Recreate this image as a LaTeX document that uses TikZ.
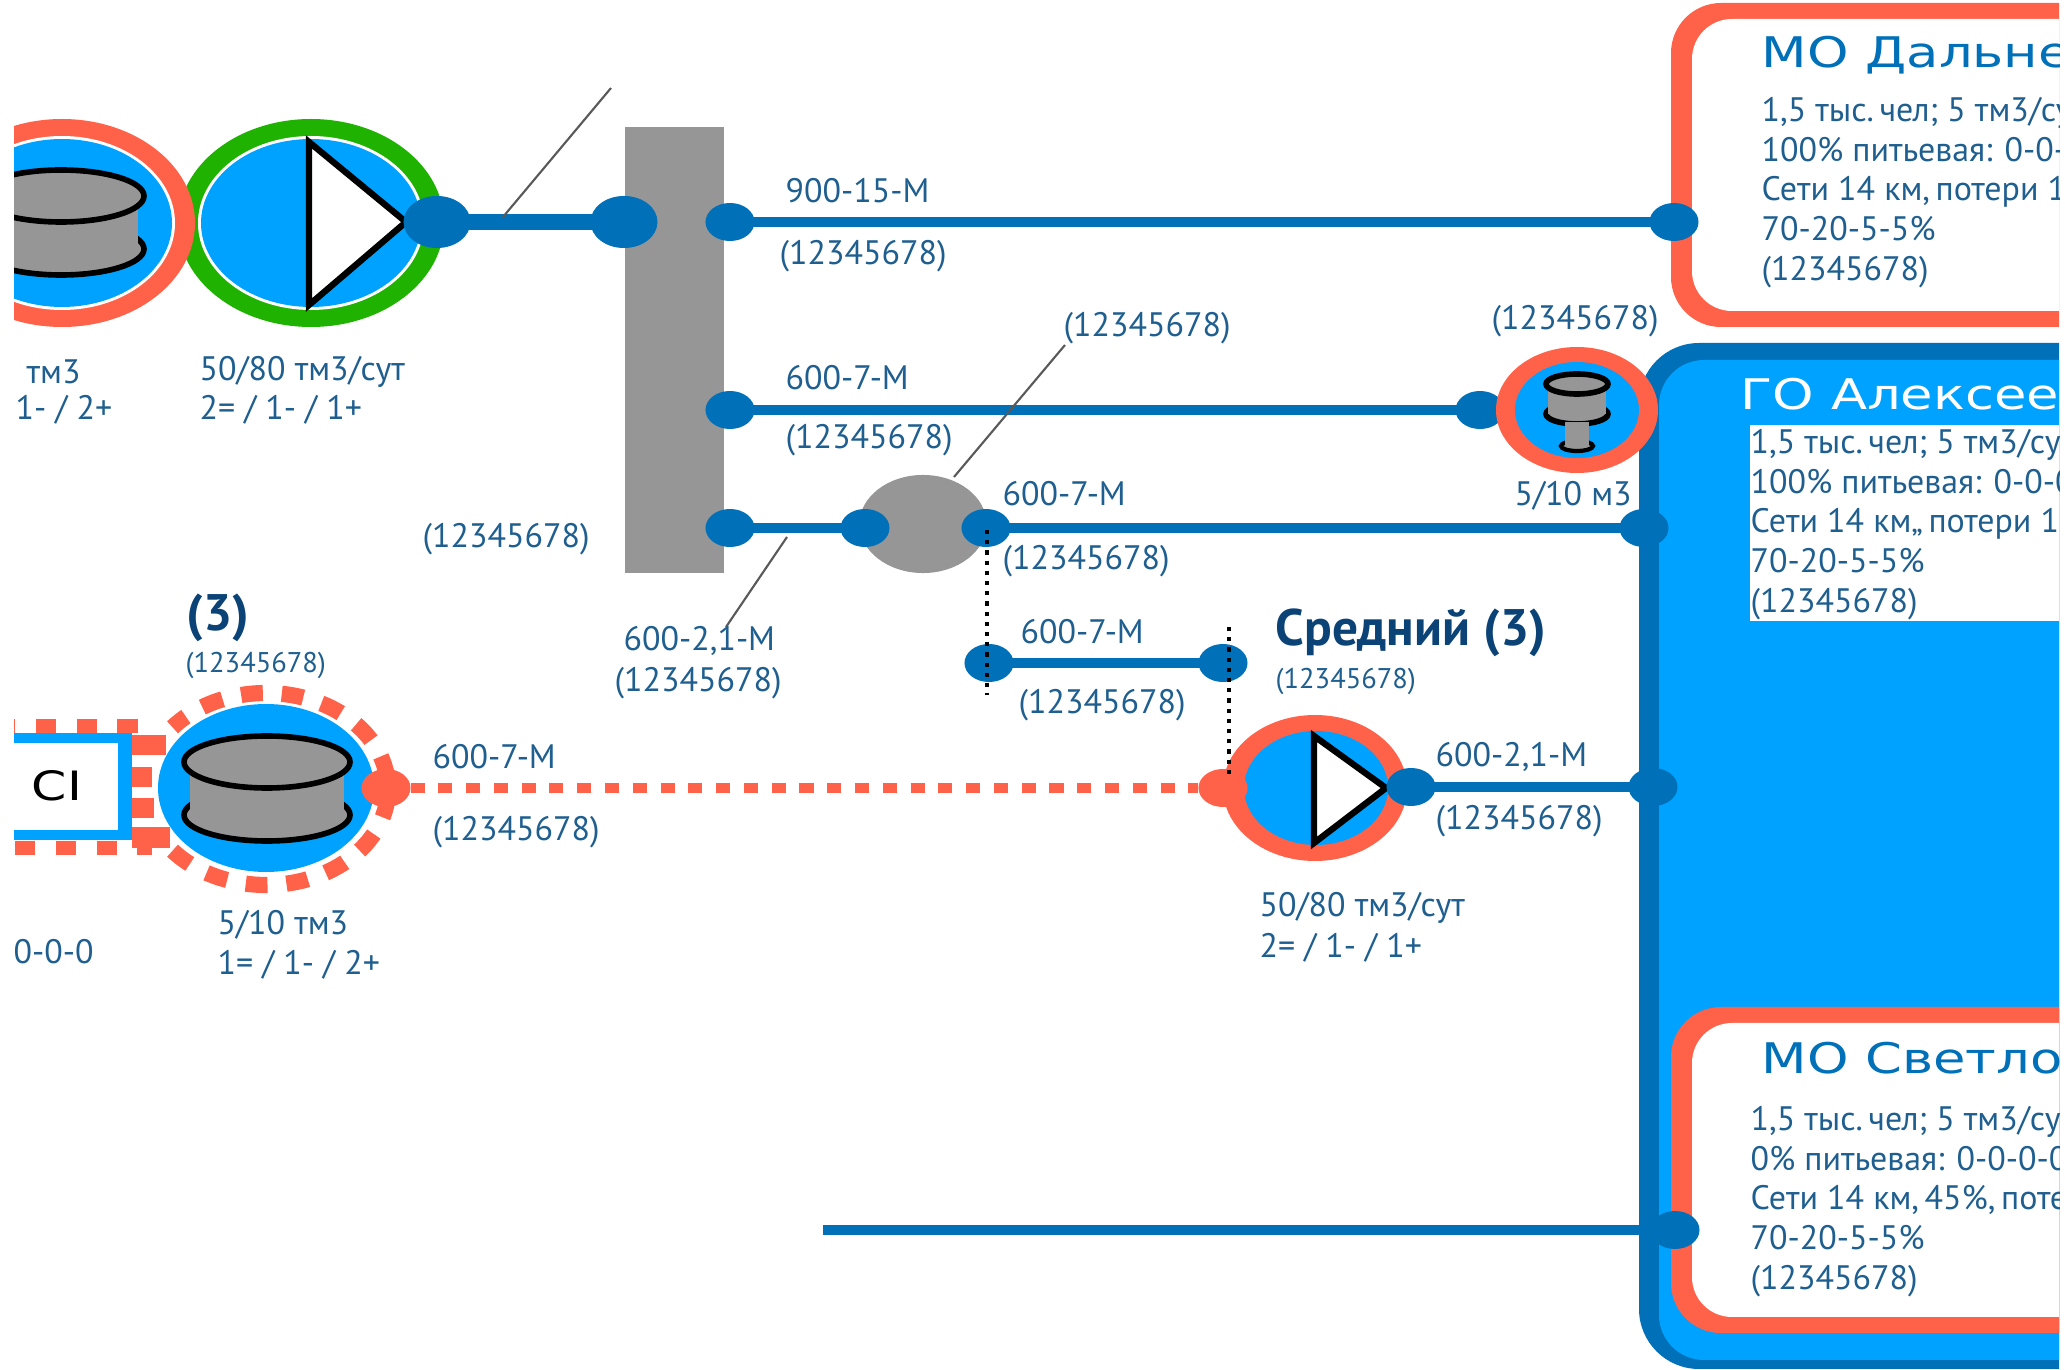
\documentclass[tikz,border=0pt]{standalone}
\usepackage{fontspec}
\setmainfont{PT Sans}
\newfontfamily\headfont[FakeStretch=1.25]{DejaVu Sans}
\usepackage{xcolor}
\usetikzlibrary{calc, shapes.geometric}

\definecolor{pipeblue}{HTML}{0070B8}
\definecolor{fillblue}{HTML}{00A2FF}
\definecolor{alarmred}{HTML}{FF6249}
\definecolor{okgreen}{HTML}{1FB200}
\definecolor{tankgray}{HTML}{969696}
\definecolor{labelblue}{HTML}{1F5F90}
\definecolor{titleblue}{HTML}{0B4377}

\tikzset{
	lbl/.style = {anchor = west, inner sep = 0, xshift = -0.01cm, yshift = -0.03cm, text = labelblue, font = \fontsize{9.65}{11}\selectfont},
	smalllbl/.style = {lbl, font = \fontsize{8.1}{10}\selectfont},
	boldlbl/.style = {lbl, text = titleblue, font = \fontsize{14.6}{16}\selectfont\bfseries},
	boxtext/.style = {anchor = north west, inner sep = 0, align = left, text = labelblue, font = \fontsize{9.65}{11.25}\selectfont},
	boxtitle/.style = {anchor = west, inner sep = 0, text = pipeblue, font = \headfont\fontsize{12}{14}\selectfont},
	dot/.style = {ellipse, inner sep = 0, outer sep = 0, fill = pipeblue, minimum width = 0.49cm, minimum height = 0.38cm},
	bigdot/.style = {dot, minimum width = 0.67cm, minimum height = 0.52cm},
	reddot/.style = {dot, fill = alarmred},
	pipe/.style = {draw = pipeblue, line width = 3.1pt},
	redpipe/.style = {draw = alarmred, line width = 3.1pt, dash pattern = on 4pt off 3.9pt},
	leader/.style = {draw = black!65, line width = 0.6pt},
	feeder/.style = {draw = black, line width = 1.2pt, dash pattern = on 1.2pt off 1.7pt},
	tankline/.style = {draw = black, fill = tankgray, line width = 1.6pt},
	pumpmark/.style = {draw = black, fill = white, line width = 1.8pt, line join = miter},
}

\newcommand{\drawtank}[5]{%
	\filldraw [tankline] (#1,#3) ellipse [x radius = #4, y radius = #5];
	\fill [tankgray] ({#1-0.93*#4},#2) rectangle ({#1+0.93*#4},#3);
	\filldraw [tankline] (#1,#2) ellipse [x radius = #4, y radius = #5];
}

\begin{document}
\begin{tikzpicture}[x = 0.01cm, y = -0.01cm]
	\useasboundingbox (0,0) rectangle (2065,1370);
	\fill [white] (0,0) rectangle (2065,1370);

	\begin{scope}
		\clip (14,0) rectangle (2059,1370);

		\fill [alarmred, rounded corners = 0.5cm] (1671,3) rectangle (2140,327);
		\fill [white, rounded corners = 0.4cm] (1692,19) rectangle (2140,311);

		\fill [pipeblue, rounded corners = 0.6cm] (1639,343) rectangle (2140,1369);
		\fill [fillblue, rounded corners = 0.45cm] (1659,360) rectangle (2140,1360);
		\fill [white] (1750,425) rectangle (2140,621);

		\fill [alarmred, rounded corners = 0.5cm] (1671,1007) rectangle (2140,1333);
		\fill [white, rounded corners = 0.4cm] (1692,1023) rectangle (2140,1317);

		\fill [tankgray] (625,127) rectangle (724,573);

		\fill [okgreen] (311,223) ellipse [x radius = 133, y radius = 104];
		\fill [white] (311,223) ellipse [x radius = 113, y radius = 87];
		\fill [fillblue] (311,223) ellipse [x radius = 110, y radius = 84];
		\filldraw [pumpmark] (309,142) -- (406,222) -- (309,305) -- cycle;

		\fill [alarmred] (62,223) ellipse [x radius = 133, y radius = 104];
		\fill [white] (62,223) ellipse [x radius = 113, y radius = 87];
		\fill [fillblue] (62,223) ellipse [x radius = 110, y radius = 84];
		\drawtank{61}{196}{249}{83}{26}

		\node [bigdot] (pump out) at (437,222) {};
		\node [bigdot] (hall in) at (624,222) {};
		\draw [pipe, line width = 4.3pt] (pump out.center) -- (hall in.center);

		\coordinate (tag a) at (503,217);
		\coordinate (tag a end) at (611,88);
		\draw [leader] (tag a) -- (tag a end);

		\node [dot] (hall top) at (730,222) {};
		\node [dot] (dalnee in) at (1674,222) {};
		\draw [pipe] (hall top.center) -- (dalnee in.center);

		\node [dot] (hall mid) at (730,410) {};
		\node [dot] (tower in) at (1480,410) {};
		\draw [pipe] (hall mid.center) -- (tower in.center);

		\fill [alarmred] (1577,410) ellipse [x radius = 81, y radius = 63];
		\fill [fillblue] (1577,410) ellipse [x radius = 62, y radius = 48];
		\drawtank{1577}{384}{414}{31}{10}
		\filldraw [tankline, line width = 1.2pt] (1577,446) ellipse [x radius = 16, y radius = 5];
		\fill [tankgray] (1565,422) rectangle (1589,446);

		\node [ellipse, inner sep = 0, outer sep = 0, fill = tankgray, minimum width = 1.27cm, minimum height = 0.98cm] (valve) at (923,524) {};

		\coordinate (tag b) at (954,477);
		\coordinate (tag b end) at (1065,345);
		\draw [leader] (tag b) -- (tag b end);

		\node [dot] (hall low) at (730,528) {};
		\node [dot] (valve in) at (865,528) {};
		\node [dot] (valve out) at (986,528) {};
		\node [dot] (city a) at (1644,528) {};
		\draw [pipe] (hall low.center) -- (valve in.center);
		\draw [pipe] (valve out.center) -- (city a.center);

		\coordinate (tag c) at (787,537);
		\coordinate (tag c end) at (726,627);
		\draw [leader] (tag c) -- (tag c end);

		\node [dot] (link a) at (989,663) {};
		\node [dot] (link b) at (1223,663) {};
		\draw [pipe] (link a.center) -- (link b.center);

		\fill [alarmred] (1315,788) ellipse [x radius = 92, y radius = 73];
		\fill [fillblue] (1316,788) ellipse [x radius = 72, y radius = 57];
		\filldraw [pumpmark] (1314,736) -- (1386,788) -- (1314,843) -- cycle;

		\fill [fillblue] (266,788) ellipse [x radius = 108, y radius = 84];
		\draw [alarmred, line width = 4.6pt, dash pattern = on 6.2pt off 5.4pt] (266,789) ++(140:122 and 96) arc [start angle = 140, end angle = -140, x radius = 122, y radius = 96];
		\drawtank{267}{762}{815}{83}{26}

		\fill [fillblue] (-20,733) rectangle (132,840);
		\fill [white] (-20,743) rectangle (118,830);
		\node [anchor = center, inner sep = 0, font = \headfont\fontsize{11.5}{13}\selectfont] (ci) at (57,786) {CI};
		\draw [alarmred, line width = 4.2pt, dash pattern = on 5.8pt off 5.8pt] (-5,726) -- (138,726);
		\draw [alarmred, line width = 4.2pt, dash pattern = on 5.8pt off 5.8pt] (15,848) -- (152,848);
		\fill [alarmred] (132,735) rectangle (166,755);
		\fill [alarmred] (132,767) rectangle (152,787);
		\fill [alarmred] (132,798) rectangle (154,818);
		\fill [alarmred] (132,827) rectangle (170,848);

		\node [reddot] (tank out) at (386,788) {};
		\node [reddot] (pump in) at (1223,788) {};
		\draw [redpipe] (tank out) -- (pump in);

		\node [dot] (pump low out) at (1411,787) {};
		\node [dot] (city b) at (1653,787) {};
		\draw [pipe] (pump low out.center) -- (city b.center);

		\coordinate (feed a) at (987,530);
		\coordinate (feed a end) at (987,695);
		\draw [feeder] (feed a) -- (feed a end);
		\coordinate (feed b) at (1229,627);
		\coordinate (feed b end) at (1229,777);
		\draw [feeder] (feed b) -- (feed b end);

		\coordinate (svet free) at (823,1230);
		\node [dot] (svet in) at (1675,1230) {};
		\draw [pipe] (svet free) -- (svet in.center);

		\node [lbl] (cap a) at (27,369) {тм3};
		\node [lbl] (cap b) at (16,407) {1- / 2+};
		\node [lbl] (cap c) at (200,369) {50/80 тм3/сут};
		\node [lbl] (cap d) at (200,407) {2= / 1- / 1+};

		\node [lbl] (top size) at (786,188) {900-15-М};
		\node [lbl] (top id) at (780,253) {(12345678)};
		\node [lbl] (mid size) at (786,375) {600-7-М};
		\node [lbl] (mid id) at (786,437) {(12345678)};
		\node [lbl] (valve id) at (1064,325) {(12345678)};
		\node [lbl] (tower id) at (1492,318) {(12345678)};
		\node [lbl] (tower cap) at (1515,493) {5/10 м3};
		\node [lbl] (low size) at (1003,491) {600-7-М};
		\node [lbl] (low id) at (1003,558) {(12345678)};
		\node [lbl] (hall id) at (423,536) {(12345678)};
		\node [lbl] (tag size) at (624,638) {600-2,1-М};
		\node [lbl] (tag id) at (615,680) {(12345678)};
		\node [lbl] (link size) at (1021,629) {600-7-М};
		\node [lbl] (link id) at (1019,702) {(12345678)};

		\node [boldlbl] (sred name) at (1276,630) {Средний (3)};
		\node [smalllbl] (sred id) at (1276,678) {(12345678)};
		\node [boldlbl] (tank name) at (187,615) {(3)};
		\node [smalllbl] (tank id) at (186,662) {(12345678)};

		\node [lbl] (red size) at (433,754) {600-7-М};
		\node [lbl] (red id) at (433,829) {(12345678)};
		\node [lbl] (ci code) at (14,949) {0-0-0};
		\node [lbl] (tank cap a) at (218,922) {5/10 тм3};
		\node [lbl] (tank cap b) at (218,962) {1= / 1- / 2+};
		\node [lbl] (out size) at (1436,754) {600-2,1-М};
		\node [lbl] (out id) at (1436,818) {(12345678)};
		\node [lbl] (sred cap a) at (1260,905) {50/80 тм3/сут};
		\node [lbl] (sred cap b) at (1260,945) {2= / 1- / 1+};

		\node [boxtitle] (dalnee name) at (1761,55) {МО Дальнее};
		\node [boxtext] (dalnee text) at (1761,97) {1,5 тыс.\,чел; 5 тм3/су\\100\% питьевая: 0-0-\\Сети 14 км,\,потери 1\\70-20-5-5\%\\(12345678)};

		\node [boxtitle, text = white] (alex name) at (1740,394) {ГО Алексеев};
		\node [boxtext] (alex text) at (1750,429) {1,5 тыс.\,чел; 5 тм3/сут\\100\% питьевая: 0-0-0\\Сети 14 км,,\,потери 1\\70-20-5-5\%\\(12345678)};

		\node [boxtitle] (svet name) at (1761,1058) {МО Светлое};
		\node [boxtext] (svet text) at (1750,1106) {1,5 тыс.\,чел; 5 тм3/сут\\0\% питьевая: 0-0-0-0\\Сети 14 км,\,45\%,\,поте\\70-20-5-5\%\\(12345678)};
	\end{scope}
\end{tikzpicture}
\end{document}
